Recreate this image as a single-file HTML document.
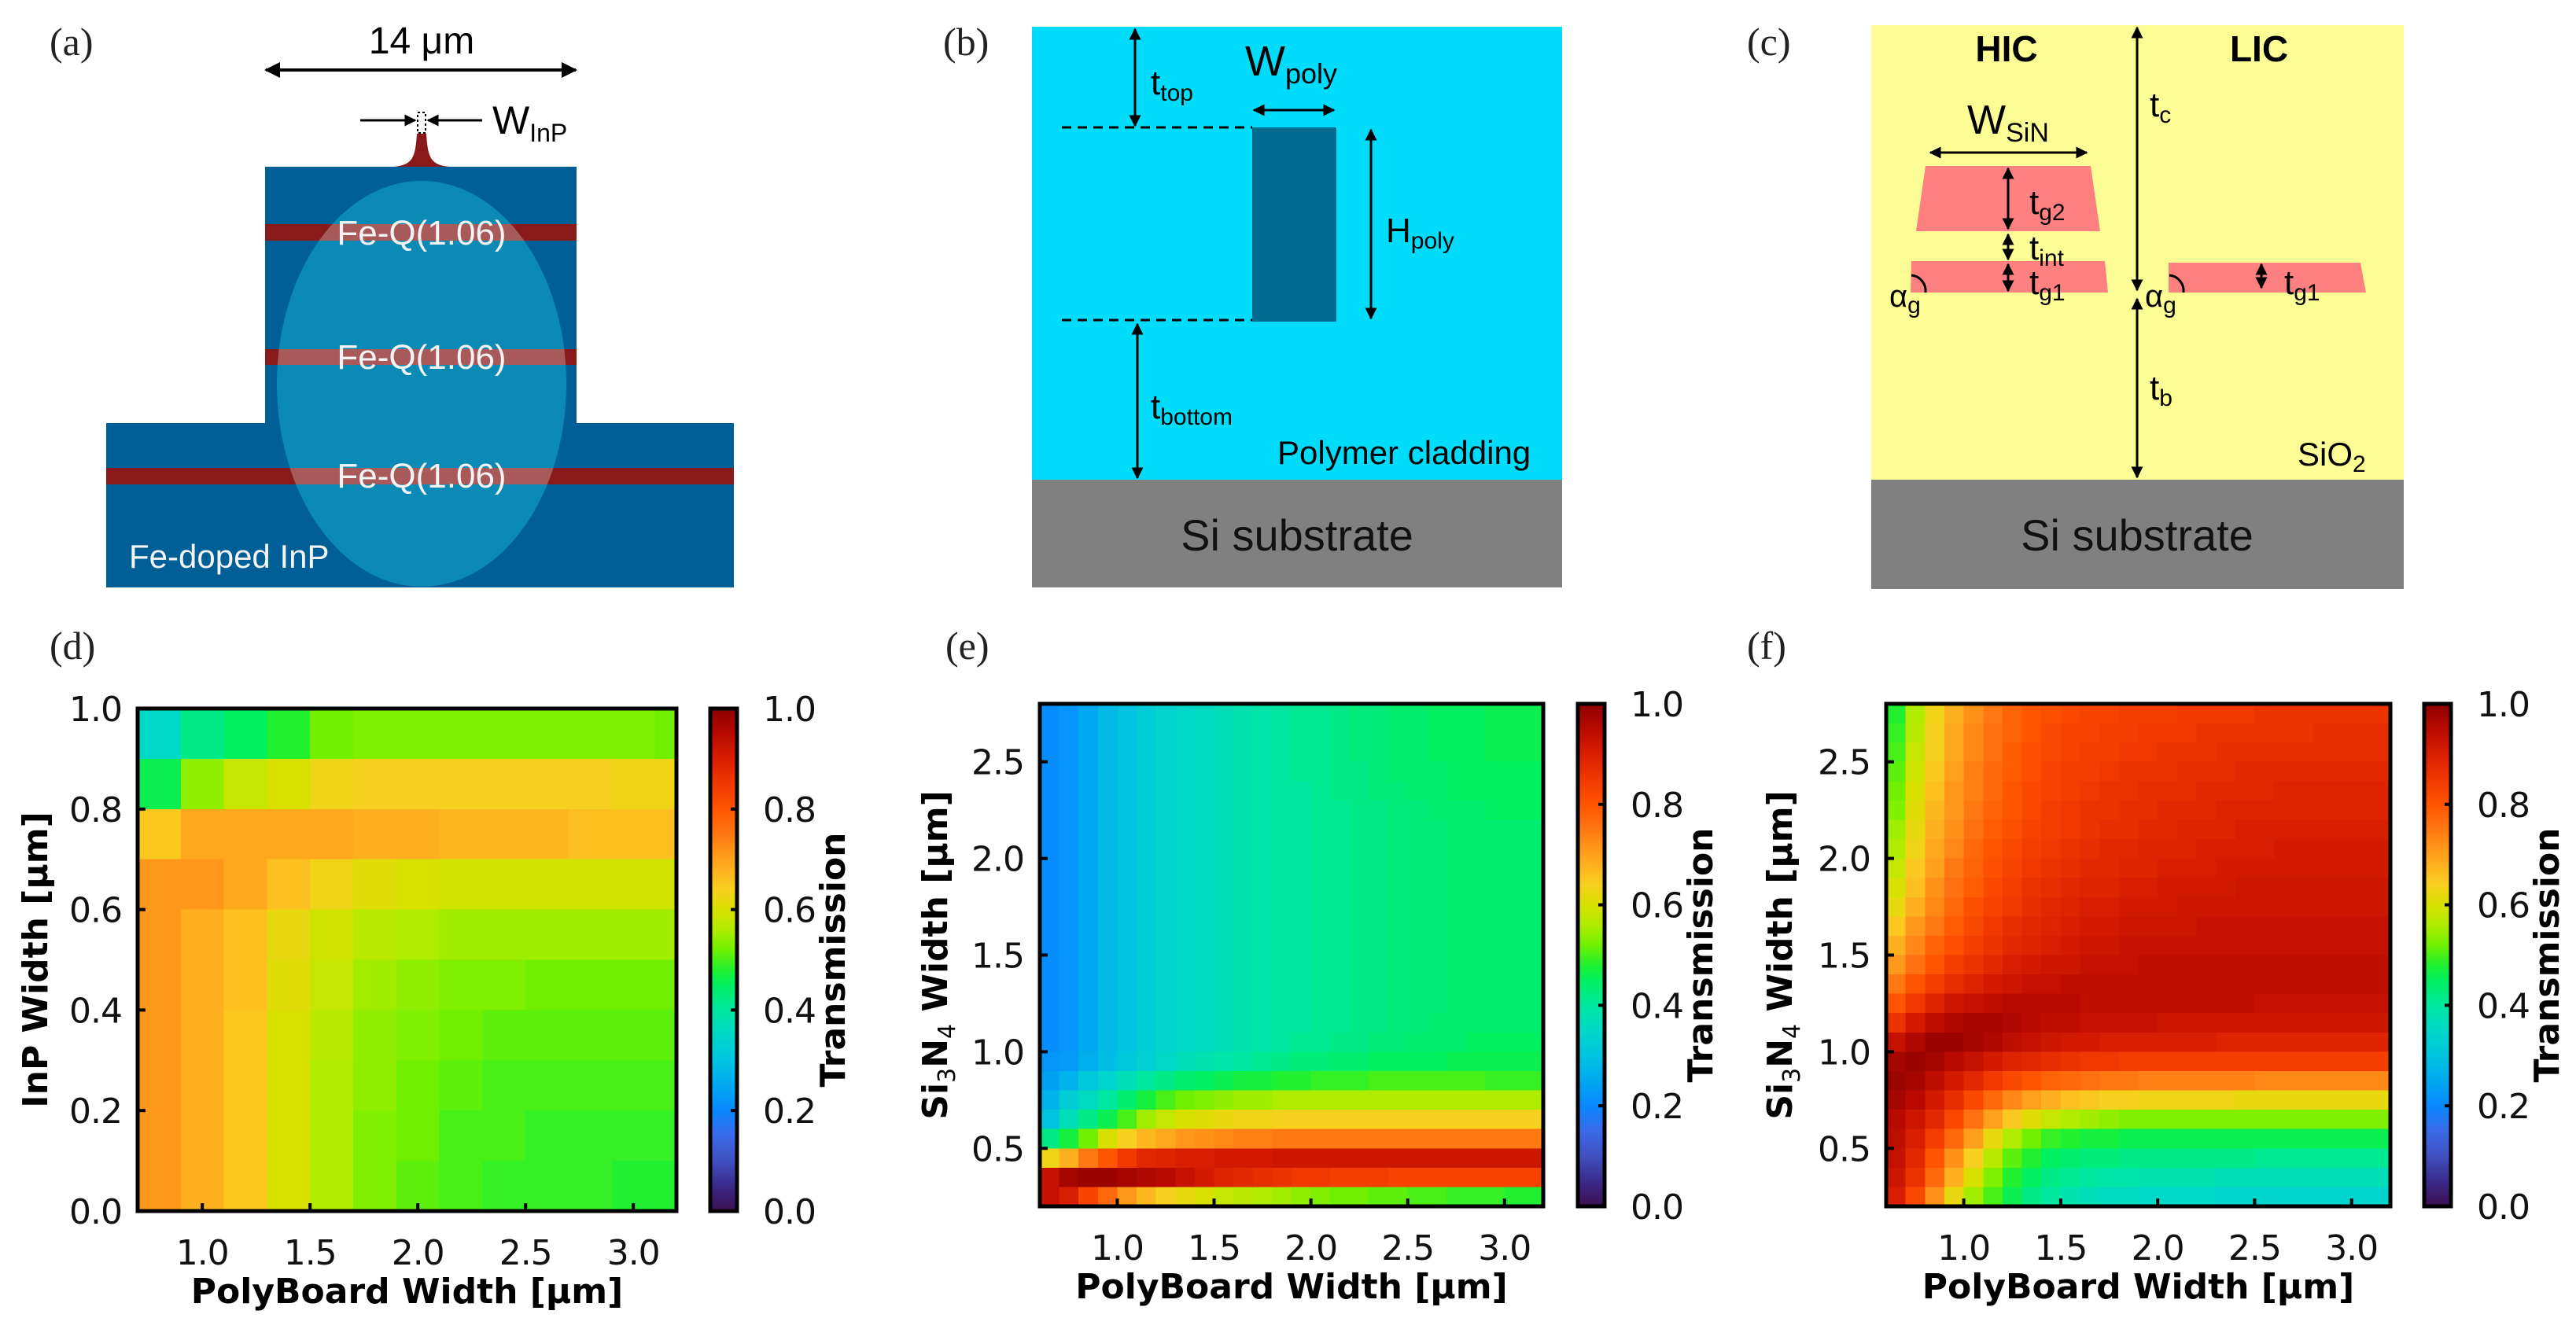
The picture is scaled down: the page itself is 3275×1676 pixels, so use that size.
<!DOCTYPE html>
<html><head><meta charset="utf-8">
<style>
html,body{margin:0;padding:0;background:#fff;}
svg{display:block;}
.tk{font-family:"DejaVu Sans","Liberation Sans",sans-serif;font-size:44px;fill:#111;letter-spacing:-1px;}
.ttl{font-family:"DejaVu Sans","Liberation Sans",sans-serif;font-size:44px;font-weight:bold;fill:#000;}
.pl{font-family:"Liberation Serif",serif;font-size:50px;fill:#222;}
.dg{font-family:"Liberation Sans",sans-serif;fill:#000;}
</style></head>
<body>
<svg id="fig" xmlns="http://www.w3.org/2000/svg" width="3275" height="1676" viewBox="0 0 3275 1676">
<defs>
<marker id="ah" viewBox="0 0 10 10" refX="9" refY="5" markerWidth="5" markerHeight="5" orient="auto-start-reverse"><path d="M0,0 L10,5 L0,10 z" fill="#000"/></marker>
<clipPath id="ellclip"><ellipse cx="536" cy="488" rx="184" ry="258"/></clipPath>
</defs>

<!-- Panel (a) -->
<g>
<text class="pl" x="63" y="70">(a)</text>
<rect x="337" y="212" width="396" height="330" fill="#005f96"/>
<rect x="135" y="538" width="798" height="209" fill="#005f96"/>
<rect x="337" y="285" width="396" height="21" fill="#8a1a1a"/>
<rect x="337" y="444" width="396" height="20" fill="#8a1a1a"/>
<rect x="135" y="595" width="798" height="21" fill="#8a1a1a"/>
<ellipse cx="536" cy="488" rx="184" ry="258" fill="#0a8ab5"/>
<g clip-path="url(#ellclip)">
<rect x="337" y="285" width="396" height="21" fill="#a85a5a"/>
<rect x="337" y="444" width="396" height="20" fill="#a85a5a"/>
<rect x="135" y="595" width="798" height="21" fill="#a85a5a"/>
</g>
<path d="M500,212 C525,210 528,200 530,170 L542,170 C544,200 547,210 572,212 Z" fill="#8a1a1a"/>
<rect x="531" y="143" width="10" height="26" fill="none" stroke="#000" stroke-width="2" stroke-dasharray="3,3"/>
<line x1="338" y1="89" x2="732" y2="89" stroke="#000" stroke-width="4" marker-start="url(#ah)" marker-end="url(#ah)"/>
<text class="dg" x="536" y="68" font-size="48" text-anchor="middle">14 μm</text>
<line x1="458" y1="153" x2="528" y2="153" stroke="#000" stroke-width="3" marker-end="url(#ah)"/>
<line x1="613" y1="153" x2="544" y2="153" stroke="#000" stroke-width="3" marker-end="url(#ah)"/>
<text class="dg" x="626" y="170" font-size="50">W<tspan font-size="32" dy="10">InP</tspan></text>
<text class="dg" x="536" y="311" font-size="44" style="fill:#f4f4f4" text-anchor="middle">Fe-Q(1.06)</text>
<text class="dg" x="536" y="469" font-size="44" style="fill:#f4f4f4" text-anchor="middle">Fe-Q(1.06)</text>
<text class="dg" x="536" y="620" font-size="44" style="fill:#f4f4f4" text-anchor="middle">Fe-Q(1.06)</text>
<text class="dg" x="164" y="722" font-size="42" style="fill:#f4f4f4">Fe-doped InP</text>
</g>

<!-- Panel (b) -->
<g>
<text class="pl" x="1199" y="70">(b)</text>
<rect x="1312" y="34" width="674" height="576" fill="#00dcfa"/>
<rect x="1312" y="610" width="674" height="137" fill="#808080"/>
<rect x="1592" y="162" width="107" height="247" fill="#006b8f"/>
<line x1="1350" y1="162" x2="1592" y2="162" stroke="#000" stroke-width="3" stroke-dasharray="12,8"/>
<line x1="1350" y1="407" x2="1592" y2="407" stroke="#000" stroke-width="3" stroke-dasharray="12,8"/>
<line x1="1443" y1="37" x2="1443" y2="160" stroke="#000" stroke-width="3" marker-start="url(#ah)" marker-end="url(#ah)"/>
<line x1="1594" y1="140" x2="1696" y2="140" stroke="#000" stroke-width="3" marker-start="url(#ah)" marker-end="url(#ah)"/>
<line x1="1743" y1="165" x2="1743" y2="405" stroke="#000" stroke-width="3" marker-start="url(#ah)" marker-end="url(#ah)"/>
<line x1="1446" y1="412" x2="1446" y2="608" stroke="#000" stroke-width="3" marker-start="url(#ah)" marker-end="url(#ah)"/>
<text class="dg" x="1463" y="120" font-size="44">t<tspan font-size="30" dy="8">top</tspan></text>
<text class="dg" x="1583" y="96" font-size="54">W<tspan font-size="36" dy="10">poly</tspan></text>
<text class="dg" x="1762" y="308" font-size="44">H<tspan font-size="30" dy="8">poly</tspan></text>
<text class="dg" x="1463" y="532" font-size="44">t<tspan font-size="30" dy="8">bottom</tspan></text>
<text class="dg" x="1624" y="590" font-size="42">Polymer cladding</text>
<text class="dg" x="1649" y="700" font-size="56" text-anchor="middle" style="fill:#111">Si substrate</text>
</g>

<!-- Panel (c) -->
<g>
<text class="pl" x="2221" y="70">(c)</text>
<rect x="2379" y="32" width="677" height="578" fill="#fdfd96"/>
<rect x="2379" y="610" width="677" height="139" fill="#808080"/>
<polygon points="2448,211 2658,211 2670,294 2436,294" fill="#ff8080"/>
<polygon points="2430,332 2676,332 2680,372 2429,372" fill="#ff8080"/>
<polygon points="2757,334 3001,334 3008,372 2757,372" fill="#ff8080"/>
<line x1="2717" y1="35" x2="2717" y2="369" stroke="#000" stroke-width="3" marker-start="url(#ah)" marker-end="url(#ah)"/>
<line x1="2717" y1="380" x2="2717" y2="607" stroke="#000" stroke-width="3" marker-start="url(#ah)" marker-end="url(#ah)"/>
<line x1="2454" y1="194" x2="2653" y2="194" stroke="#000" stroke-width="3" marker-start="url(#ah)" marker-end="url(#ah)"/>
<line x1="2553" y1="214" x2="2553" y2="291" stroke="#000" stroke-width="3" marker-start="url(#ah)" marker-end="url(#ah)"/>
<line x1="2553" y1="298" x2="2553" y2="330" stroke="#000" stroke-width="3" marker-start="url(#ah)" marker-end="url(#ah)"/>
<line x1="2553" y1="336" x2="2553" y2="370" stroke="#000" stroke-width="3" marker-start="url(#ah)" marker-end="url(#ah)"/>
<line x1="2875" y1="336" x2="2875" y2="366" stroke="#000" stroke-width="3" marker-start="url(#ah)" marker-end="url(#ah)"/>
<text class="dg" x="2551" y="78" font-size="46" font-weight="bold" text-anchor="middle">HIC</text>
<text class="dg" x="2872" y="78" font-size="46" font-weight="bold" text-anchor="middle">LIC</text>
<text class="dg" x="2733" y="148" font-size="44">t<tspan font-size="30" dy="8">c</tspan></text>
<text class="dg" x="2501" y="170" font-size="52">W<tspan font-size="34" dy="10">SiN</tspan></text>
<text class="dg" x="2580" y="272" font-size="44">t<tspan font-size="30" dy="8">g2</tspan></text>
<text class="dg" x="2580" y="330" font-size="44">t<tspan font-size="30" dy="8">int</tspan></text>
<text class="dg" x="2580" y="374" font-size="44">t<tspan font-size="30" dy="8">g1</tspan></text>
<text class="dg" x="2904" y="374" font-size="44">t<tspan font-size="30" dy="8">g1</tspan></text>
<text class="dg" x="2402" y="390" font-size="40">α<tspan font-size="30" dy="8">g</tspan></text>
<text class="dg" x="2727" y="390" font-size="40">α<tspan font-size="30" dy="8">g</tspan></text>
<path d="M2430,350 A20,20 0 0 1 2448,372" fill="none" stroke="#000" stroke-width="3"/>
<path d="M2758,350 A20,20 0 0 1 2776,372" fill="none" stroke="#000" stroke-width="3"/>
<text class="dg" x="2733" y="508" font-size="44">t<tspan font-size="30" dy="8">b</tspan></text>
<text class="dg" x="2921" y="592" font-size="42">SiO<tspan font-size="30" dy="8">2</tspan></text>
<text class="dg" x="2717" y="700" font-size="56" text-anchor="middle" style="fill:#111">Si substrate</text>
</g>

<g id="charts"></g>
</svg>

<script>
// ---------- Colormap (styling, not data) ----------
const cmapStops = [[0.00,'#3b0f4f'],[0.05,'#3a2a8a'],[0.10,'#4050c0'],[0.15,'#3a6ae8'],[0.20,'#0a88ff'],[0.25,'#00a8f0'],[0.30,'#00c4e0'],[0.35,'#00d8c8'],[0.40,'#00e8a0'],[0.45,'#00f060'],[0.48,'#20f030'],[0.52,'#70f000'],[0.56,'#b0ec00'],[0.60,'#d8e000'],[0.64,'#f8d020'],[0.68,'#ffb020'],[0.72,'#ff9018'],[0.76,'#ff7010'],[0.80,'#ff5500'],[0.85,'#f03800'],[0.90,'#d81e00'],[0.95,'#b80a00'],[1.00,'#8a0000']];

// ---------- Panel (d) data ----------
const dXEdges = [0.7,0.9,1.1,1.3,1.5,1.7,1.9,2.1,2.3,2.5,2.7,2.9,3.1,3.3];
const dYEdges = [1.0,0.9,0.8,0.7,0.6,0.5,0.4,0.3,0.2,0.1,0.0];
const dValues = [
[35,42,45,48,52,53,53,53,53,53,53,53,52],
[46,54,58,60,63,64,64,64,64,64,64,63,63],
[65,69,69,69,69,68,68,67,67,67,66,66,66],
[71,71,69,66,63,61,60,59,59,59,59,59,59],
[71,68,66,62,59,57,56,55,55,55,55,55,55],
[71,68,66,61,58,55,54,53,53,52,52,52,52],
[71,68,65,60,57,54,53,52,51,51,51,51,51],
[71,68,65,60,56,54,52,51,50,50,50,50,50],
[71,68,65,60,56,53,52,50,50,49,49,49,49],
[71,68,65,60,56,53,51,50,49,49,49,48,48]];
const dXTicks = [1.0,1.5,2.0,2.5,3.0];
const dYTicks = [0.0,0.2,0.4,0.6,0.8,1.0];

// ---------- Panel (e) data ----------
const eXEdges = [0.6,0.7,0.8,0.9,1.0,1.1,1.2,1.3,1.4,1.5,1.6,1.7,1.8,1.9,2.0,2.1,2.2,2.3,2.4,2.5,2.6,2.7,2.8,2.9,3.0,3.1,3.2];
const eYEdges = [2.8,2.7,2.6,2.5,2.4,2.3,2.2,2.1,2.0,1.9,1.8,1.7,1.6,1.5,1.4,1.3,1.2,1.1,1.0,0.9,0.8,0.7,0.6,0.5,0.4,0.3,0.2];
const eValues = [
[21,22,25,28,30,32,34,35,36,37,38,39,40,41,41,42,43,43,44,44,45,45,45,46,46,46],
[21,22,25,28,30,32,34,35,36,37,38,39,40,41,41,42,43,43,44,44,45,45,45,46,46,46],
[21,22,25,28,30,32,34,35,36,37,38,39,40,41,41,42,43,43,44,44,45,45,45,46,46,46],
[21,22,25,28,30,32,34,35,36,37,38,39,40,41,41,42,42,43,44,44,44,45,45,45,45,45],
[21,22,25,28,30,32,34,35,36,37,38,39,40,40,41,42,42,43,43,44,44,45,45,45,45,45],
[21,22,25,28,30,32,34,35,36,37,38,39,40,40,41,41,42,42,43,43,44,44,44,45,45,45],
[21,22,25,28,30,32,34,35,36,37,38,39,40,40,41,41,42,42,43,43,43,44,44,44,44,44],
[21,22,25,28,30,32,34,35,36,37,38,39,40,40,41,41,42,42,43,43,43,44,44,44,44,44],
[21,22,25,28,30,32,34,35,36,37,38,39,40,40,41,41,42,42,43,43,43,44,44,44,44,44],
[21,22,25,28,30,32,34,35,36,37,38,39,40,40,41,41,42,42,43,43,43,44,44,44,44,44],
[21,22,25,28,30,32,34,35,36,37,38,39,40,40,41,41,42,42,43,43,43,44,44,44,44,44],
[21,22,25,28,30,32,34,35,36,37,38,39,40,40,41,41,42,42,43,43,43,44,44,44,44,44],
[21,22,25,28,30,32,34,35,36,37,38,39,40,40,41,41,42,42,43,43,43,44,44,44,44,44],
[21,22,25,28,30,32,34,35,36,37,38,39,40,40,41,41,42,42,43,43,43,44,44,44,44,44],
[21,22,25,28,30,32,34,35,36,37,38,39,40,40,41,41,42,42,43,43,43,44,44,44,44,44],
[21,22,25,28,30,32,34,35,36,37,38,39,40,40,41,41,42,42,43,43,43,44,44,44,44,44],
[21,22,25,28,30,32,34,35,36,37,38,39,40,40,41,41,42,42,43,43,44,44,44,44,44,44],
[21,22,25,28,30,32,34,35,36,37,38,39,40,41,41,42,42,43,43,44,44,44,45,45,45,45],
[22,23,26,29,31,33,35,37,38,39,40,41,42,43,43,44,44,45,45,45,45,46,46,46,46,46],
[24,27,31,34,37,40,42,44,45,46,47,47,48,48,49,49,49,50,50,50,50,50,50,49,49,49],
[27,32,36,40,44,47,50,52,53,54,55,55,56,56,56,56,56,56,56,56,56,56,56,56,56,56],
[30,37,42,46,50,55,58,60,61,62,63,63,64,64,64,64,64,64,64,64,64,64,64,64,64,64],
[42,47,52,60,64,67,69,71,72,73,74,74,75,75,75,75,75,75,75,75,75,75,75,75,75,75],
[63,68,75,80,85,88,89,90,90,91,91,91,92,92,92,92,92,92,92,92,92,92,92,92,92,92],
[93,97,98,98,97,96,95,93,91,89,88,87,86,85,85,84,84,84,83,83,83,83,83,83,83,83],
[93,90,83,77,71,67,64,62,60,58,57,56,55,54,53,52,52,51,51,50,50,49,49,49,48,48]];
const eXTicks = [1.0,1.5,2.0,2.5,3.0];
const eYTicks = [0.5,1.0,1.5,2.0,2.5];

// ---------- Panel (f) data ----------
const fXEdges = [0.6,0.7,0.8,0.9,1.0,1.1,1.2,1.3,1.4,1.5,1.6,1.7,1.8,1.9,2.0,2.1,2.2,2.3,2.4,2.5,2.6,2.7,2.8,2.9,3.0,3.1,3.2];
const fYEdges = [2.8,2.7,2.6,2.5,2.4,2.3,2.2,2.1,2.0,1.9,1.8,1.7,1.6,1.5,1.4,1.3,1.2,1.1,1.0,0.9,0.8,0.7,0.6,0.5,0.4,0.3,0.2];
const fValues = [
[48,56,63,68,72,75,78,80,81,82,83,83,84,84,84,85,85,85,85,86,86,86,86,86,86,86],
[49,57,64,69,73,76,78,80,82,83,83,84,84,85,85,85,86,86,86,86,86,86,87,87,87,87],
[50,58,64,69,73,76,79,81,82,83,84,84,85,85,86,86,86,87,87,87,87,87,87,87,87,87],
[51,59,65,70,74,77,79,81,83,84,84,85,86,86,86,87,87,87,88,88,88,88,88,88,88,88],
[52,60,66,71,74,77,80,82,83,84,85,86,86,87,87,87,88,88,88,88,89,89,89,89,89,89],
[53,61,67,71,75,78,80,82,84,85,86,86,87,87,88,88,88,89,89,89,89,89,89,89,89,89],
[55,62,68,72,76,79,81,83,84,85,86,87,87,88,88,89,89,89,90,90,90,90,90,90,90,90],
[56,63,69,73,77,80,82,84,85,86,87,88,88,89,89,89,90,90,90,90,91,91,91,91,91,91],
[58,65,70,75,78,81,83,85,86,87,88,88,89,89,90,90,90,91,91,91,91,91,91,91,91,91],
[60,66,72,76,79,82,84,86,87,88,89,89,90,90,91,91,91,91,92,92,92,92,92,92,92,92],
[62,68,73,77,81,83,85,87,88,89,90,90,91,91,91,92,92,92,92,92,92,92,92,92,92,92],
[65,71,75,79,82,85,87,88,89,90,91,91,92,92,92,92,93,93,93,93,93,93,93,93,93,93],
[68,73,78,81,84,86,88,89,90,91,92,92,93,93,93,93,93,93,93,93,93,93,93,93,93,93],
[71,76,80,84,86,88,90,91,92,92,93,93,93,94,94,94,94,94,94,94,94,94,94,94,94,94],
[75,80,84,87,89,91,92,93,93,94,94,94,94,94,94,94,94,94,94,94,94,94,94,94,94,94],
[80,85,89,92,93,94,95,95,95,95,94,94,94,94,94,94,94,94,94,93,93,93,93,93,93,93],
[86,91,94,96,97,97,96,95,94,94,93,93,93,93,92,92,92,92,92,92,92,92,92,92,92,92],
[93,96,98,98,97,96,94,93,92,91,91,90,90,90,90,90,90,89,89,89,89,89,89,89,89,89],
[97,98,97,95,93,91,89,88,87,86,85,85,84,84,84,84,84,84,84,84,84,84,84,84,84,84],
[98,97,94,91,88,85,82,80,78,77,76,75,75,74,74,74,74,74,74,73,73,73,73,73,73,73],
[97,95,91,87,82,77,73,70,68,66,65,64,64,63,63,63,63,63,62,62,62,62,62,62,62,62],
[95,92,88,82,76,70,65,61,58,56,55,54,53,53,53,53,53,53,53,53,53,53,53,53,53,53],
[94,90,84,77,70,62,56,52,49,48,47,47,46,46,46,46,46,46,46,46,46,46,46,46,46,46],
[93,88,80,72,64,57,51,48,45,44,43,43,42,42,42,42,42,42,42,41,41,41,41,41,41,41],
[92,86,77,68,60,53,48,45,42,41,40,39,39,38,38,38,38,37,37,37,37,37,37,37,37,37],
[90,82,72,62,55,50,46,42,40,38,37,36,36,35,35,35,35,34,34,34,34,34,34,34,34,34]];
const fXTicks = [1.0,1.5,2.0,2.5,3.0];
const fYTicks = [0.5,1.0,1.5,2.0,2.5];
const cbTicks = [0.0,0.2,0.4,0.6,0.8,1.0];

const NS = 'http://www.w3.org/2000/svg';
function hex(c){return [parseInt(c.substr(1,2),16),parseInt(c.substr(3,2),16),parseInt(c.substr(5,2),16)];}
function cmap(v){
  v = Math.max(0, Math.min(1, v));
  for (let i=1;i<cmapStops.length;i++){
    if (v <= cmapStops[i][0]){
      const a=cmapStops[i-1], b=cmapStops[i];
      const t=(v-a[0])/(b[0]-a[0]); const ca=hex(a[1]), cb=hex(b[1]);
      return 'rgb('+ca.map((x,k)=>Math.round(x+(cb[k]-x)*t)).join(',')+')';
    }
  }
  return cmapStops[cmapStops.length-1][1];
}
function mk(tag, attrs, parent){const e=document.createElementNS(NS,tag);for(const k in attrs)e.setAttribute(k,attrs[k]);parent.appendChild(e);return e;}
const root = document.getElementById('charts');

function heatmap(cfg){
  const g = mk('g',{},root);
  
  
  const sx = v => cfg.px0 + (v - cfg.xmin)/(cfg.xmax-cfg.xmin)*(cfg.px1-cfg.px0);
  const sy = v => cfg.py1 - (v - cfg.ymin)/(cfg.ymax-cfg.ymin)*(cfg.py1-cfg.py0);
  const cells = mk('g',{'shape-rendering':'crispEdges'},g);
  
  
  for (let r=0;r<cfg.values.length;r++){
    for (let c=0;c<cfg.values[r].length;c++){
      const x0=sx(Math.max(cfg.xEdges[c],cfg.xmin)), x1=sx(Math.min(cfg.xEdges[c+1],cfg.xmax));
      const yA=sy(cfg.yEdges[r]), yB=sy(cfg.yEdges[r+1]);
      const rc = mk('rect',{x:x0.toFixed(2),y:Math.min(yA,yB).toFixed(2),width:(x1-x0+0.8).toFixed(2),height:(Math.abs(yB-yA)+0.8).toFixed(2),fill:cmap(cfg.values[r][c]/100)},cells);
      
      
    }
  }
  const frame = mk('rect',{x:cfg.px0,y:cfg.py0,width:cfg.px1-cfg.px0,height:cfg.py1-cfg.py0,fill:'none',stroke:'#000','stroke-width':5},g);
  
  
  cfg.xTicks.forEach(t=>{
    const x=sx(t);
    mk('line',{x1:x,y1:cfg.py1,x2:x,y2:cfg.py1-10,stroke:'#000','stroke-width':4},g);
    const tx=mk('text',{x:x,y:cfg.py1+68,'text-anchor':'middle',class:'tk'},g);
    tx.textContent=t.toFixed(1);
    
    
  });
  cfg.yTicks.forEach(t=>{
    const y=sy(t);
    mk('line',{x1:cfg.px0,y1:y,x2:cfg.px0+10,y2:y,stroke:'#000','stroke-width':4},g);
    const tx=mk('text',{x:cfg.px0-20,y:y+16,'text-anchor':'end',class:'tk'},g);
    tx.textContent=t.toFixed(1);
    
    
  });
  const xt=mk('text',{x:(cfg.px0+cfg.px1)/2,y:cfg.py1+117,'text-anchor':'middle',class:'ttl'},g);
  xt.textContent='PolyBoard Width [μm]';
  
  
  const yt=mk('text',{x:0,y:0,'text-anchor':'middle',class:'ttl',transform:'translate('+(cfg.ytx+16)+','+((cfg.py0+cfg.py1)/2)+') rotate(-90)'},g);
  
  
  if (cfg.sin){
    yt.innerHTML='Si<tspan font-size="30" font-weight="normal" dy="10">3</tspan><tspan dy="-10">N</tspan><tspan font-size="30" font-weight="normal" dy="10">4</tspan><tspan dy="-10"> Width [μm]</tspan>';
  } else { yt.textContent='InP Width [μm]'; }
  const gid='cbg'+cfg.id;
  const defs=mk('defs',{},g);
  const lg=mk('linearGradient',{id:gid,x1:0,y1:1,x2:0,y2:0},defs);
  cmapStops.forEach(s=>mk('stop',{offset:s[0],'stop-color':s[1]},lg));
  const cb=mk('rect',{x:cfg.cbx,y:cfg.py0,width:34,height:cfg.py1-cfg.py0,fill:'url(#'+gid+')',stroke:'#000','stroke-width':5},g);
  
  
  cbTicks.forEach(t=>{
    const y=cfg.py1-t*(cfg.py1-cfg.py0);
    mk('line',{x1:cfg.cbx+34,y1:y,x2:cfg.cbx+26,y2:y,stroke:'#000','stroke-width':4},g);
    const tx=mk('text',{x:cfg.cbx+67,y:y+16,class:'tk'},g);
    tx.textContent=t.toFixed(1);
    
    
  });
  const ct=mk('text',{x:0,y:0,'text-anchor':'middle',class:'ttl',transform:'translate('+(cfg.cbx+171)+','+((cfg.py0+cfg.py1)/2)+') rotate(-90)'},g);
  ct.textContent='Transmission';
  
  
  const pl=mk('text',{x:cfg.plx,y:838,class:'pl'},g);
  pl.textContent=cfg.label;
  
  
}

heatmap({id:'d',name:'heatmap-d-inp',label:'(d)',plx:63,values:dValues,xEdges:dXEdges,yEdges:dYEdges,xTicks:dXTicks,yTicks:dYTicks,
  xmin:0.7,xmax:3.2,ymin:0,ymax:1.0,px0:175,px1:860,py0:901,py1:1540,cbx:903,ytx:44,sin:false});
heatmap({id:'e',name:'heatmap-e-hic',label:'(e)',plx:1202,values:eValues,xEdges:eXEdges,yEdges:eYEdges,xTicks:eXTicks,yTicks:eYTicks,
  xmin:0.6,xmax:3.2,ymin:0.2,ymax:2.8,px0:1322,px1:1962,py0:895,py1:1534,cbx:2006,ytx:1188,sin:true});
heatmap({id:'f',name:'heatmap-f-lic',label:'(f)',plx:2221,values:fValues,xEdges:fXEdges,yEdges:fYEdges,xTicks:fXTicks,yTicks:fYTicks,
  xmin:0.6,xmax:3.2,ymin:0.2,ymax:2.8,px0:2398,px1:3039,py0:895,py1:1534,cbx:3082,ytx:2262,sin:true});
</script>
</body></html>
